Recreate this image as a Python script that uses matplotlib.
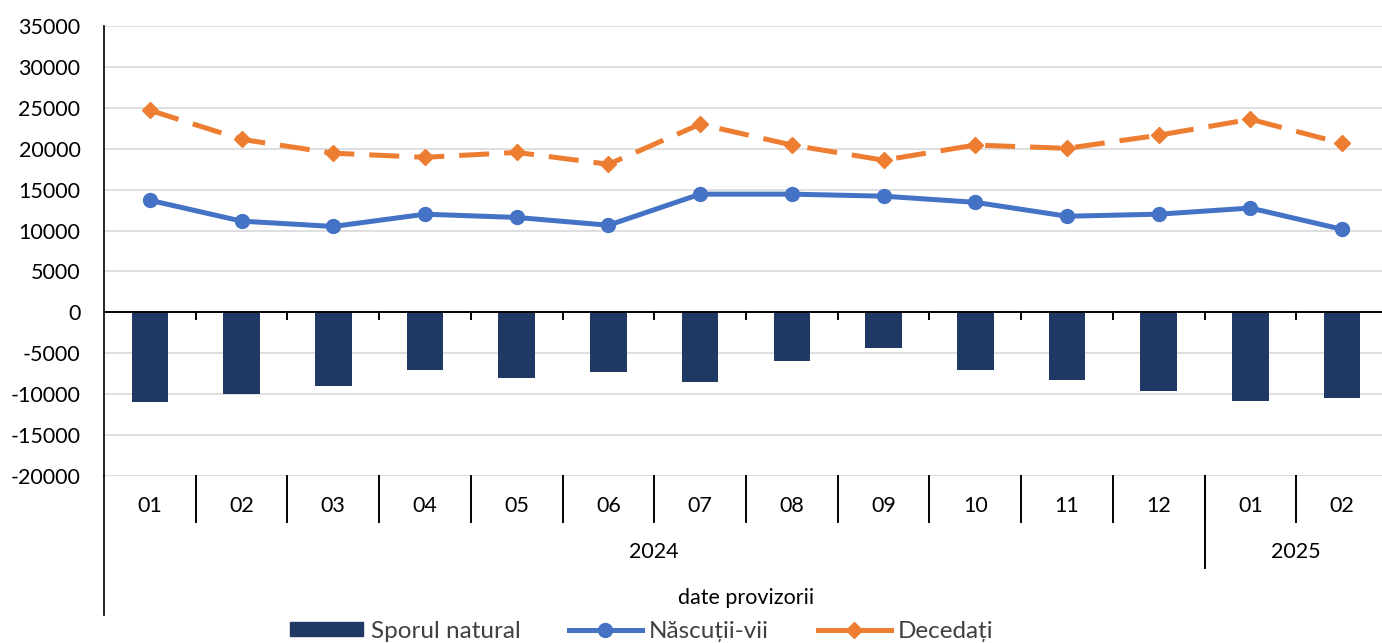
import matplotlib
matplotlib.use("Agg")
import matplotlib.pyplot as plt
from matplotlib.transforms import blended_transform_factory
from matplotlib.lines import Line2D
from matplotlib.patches import Patch
import numpy as np

months = ["01", "02", "03", "04", "05", "06", "07", "08", "09", "10", "11", "12", "01", "02"]
years = ["2024", "2025"]
year_counts = [12, 2]
nascuti = [13700, 11150, 10500, 12000, 11600, 10650, 14450, 14450, 14200, 13450, 11750, 12000, 12750, 10150]
decedati = [24700, 21150, 19450, 18950, 19550, 18100, 23000, 20450, 18600, 20450, 20050, 21650, 23600, 20650]
spor = [-11000, -10000, -8950, -7100, -8050, -7350, -8550, -6000, -4400, -7000, -8300, -9600, -10850, -10500]
series_names = ["Sporul natural", "Născuții-vii", "Decedați"]
note = "date provizorii"

C_BAR, C_BLUE, C_ORANGE = "#203864", "#4472C4", "#ED7D31"

W, H = 1382, 643
plt.rcParams['font.family'] = ['Lato', 'DejaVu Sans']
fig = plt.figure(figsize=(W / 100, H / 100), dpi=100)
ax = fig.add_axes([104 / W, (H - 476) / H, 1284 / W, 450 / H])

x = np.arange(len(months))
ax.bar(x, spor, width=0.40, color=C_BAR, zorder=2)
ax.plot(x, nascuti, color=C_BLUE, lw=3.6, marker="o", ms=10, zorder=3, solid_capstyle="round")
ld, = ax.plot(x, decedati, color=C_ORANGE, lw=3.6, marker="D", ms=8, zorder=3)
ld.set_dashes([6, 3])

ax.set_xlim(-0.5, len(months) - 0.5)
ax.set_ylim(-20000, 35000)
ax.set_yticks(np.arange(-20000, 35001, 5000))
ax.set_yticklabels([str(v) for v in range(-20000, 35001, 5000)])
ax.yaxis.grid(True, color="#d9d9d9", lw=1.2, zorder=0)
ax.set_axisbelow(True)
ax.tick_params(axis="y", length=0, labelsize=15.5, pad=17, labelcolor="#000000")
ax.set_xticks([])
for s in ["top", "right", "bottom"]:
    ax.spines[s].set_visible(False)
ax.spines["left"].set_color("#000000")
ax.spines["left"].set_linewidth(1.2)

# zero line with small ticks
ax.axhline(0, color="#000000", lw=1.4, zorder=4)
tr = blended_transform_factory(ax.transData, fig.transFigure)
for b in np.arange(0.5, len(months) - 0.5, 1):
    fig.add_artist(Line2D([b, b], [(H - 312) / H, (H - 319) / H], transform=tr, color="#000000", lw=1.4))

# multi-level category axis
for i, m in enumerate(months):
    fig.text(i, (H - 506) / H, m, transform=tr, ha="center", va="center", fontsize=15.5, color="#000000")
for b in np.arange(0.5, len(months) - 0.5, 1):
    fig.add_artist(Line2D([b, b], [(H - 476) / H, (H - 522) / H], transform=tr, color="#000000", lw=1.4))
start = 0
for yname, cnt in zip(years, year_counts):
    c = start + (cnt - 1) / 2
    fig.text(c, (H - 552) / H, yname, transform=tr, ha="center", va="center", fontsize=15.5, color="#000000")
    start += cnt
    if start < len(months):
        b = start - 0.5
        fig.add_artist(Line2D([b, b], [(H - 476) / H, (H - 568) / H], transform=tr, color="#000000", lw=1.4))
fig.text((len(months) - 1) / 2, (H - 598) / H, note, transform=tr, ha="center", va="center", fontsize=15.5, color="#000000")
fig.add_artist(Line2D([-0.5, -0.5], [(H - 476) / H, (H - 615) / H], transform=tr, color="#000000", lw=1.2))

handles = [
    Patch(facecolor=C_BAR, edgecolor=C_BAR),
    Line2D([], [], color=C_BLUE, lw=3.6, marker="o", ms=10),
    Line2D([], [], color=C_ORANGE, lw=3.6, marker="D", ms=8),
]
leg = fig.legend(handles, series_names, loc="center", bbox_to_anchor=(642 / W, (H - 631) / H), ncol=3,
                 frameon=False, fontsize=17.5, handlelength=3.0, handleheight=0.55, columnspacing=2.0,
                 handletextpad=0.3, labelcolor="#404040")

fig.savefig("out.png", dpi=100)
